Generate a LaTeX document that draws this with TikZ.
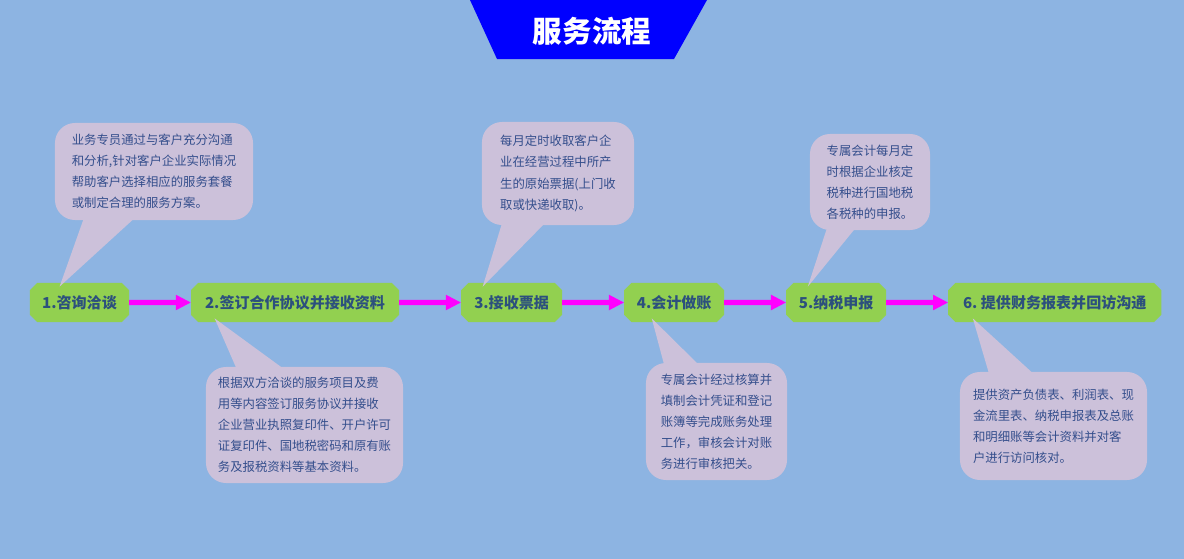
\documentclass[tikz,border=0pt]{standalone}
\usepackage{fontspec}
\setmainfont{Noto Sans CJK SC}
\usepackage{tikz}
\usetikzlibrary{positioning}
\usetikzlibrary{graphs}
\usetikzlibrary{calc}
\usetikzlibrary{arrows.meta}
\usetikzlibrary{shapes.misc}

\definecolor{bgblue}{RGB}{141,180,226}
\definecolor{titleblue}{RGB}{0,0,255}
\definecolor{stepgreen}{RGB}{146,208,80}
\definecolor{notelilac}{RGB}{204,193,218}
\definecolor{steptext}{RGB}{44,80,125}
\definecolor{notetext}{RGB}{52,78,140}
\definecolor{flowpink}{RGB}{255,0,255}

\tikzset{
    stepbox/.style={chamfered rectangle,chamfered rectangle xsep=0.09cm,
        chamfered rectangle ysep=0.09cm,fill=stepgreen,minimum height=0.975cm,
        inner sep=0pt,outer sep=0pt,text=steptext,font=\fontsize{10.7}{12}\bfseries},
    note/.style={fill=notelilac,rounded corners=0.5cm,inner sep=0pt,outer sep=0pt,
        align=left,text=notetext,font=\fontsize{8.8}{15}\selectfont},
    pointer/.style={fill=notelilac},
}

\begin{document}
\begin{tikzpicture}[x=0.025cm,y=-0.025cm,
        >={Triangle[length=0.38cm,width=0.36cm]},
        every edge/.style={draw=flowpink,line width=0.13cm}]
        \fill[bgblue] (0,0) rectangle (1184,559);
        \useasboundingbox (0,0) rectangle (1184,559);

        % title banner
        \fill[titleblue] (470,0) -- (707,0) -- (674,59) -- (497,59) -- cycle;
        \node (title) at (592,31) [text=white,font=\fontsize{21}{21}\bfseries] {服务流程};

        % steps
        \node (b1) at (79.5,302.5) [stepbox,minimum width=2.475cm] {1.咨询洽谈};
        \node (b2) [stepbox,right=1.55cm of b1,minimum width=5.2cm]   {2.签订合作协议并接收资料};
        \node (b3) [stepbox,right=1.55cm of b2,minimum width=2.525cm] {3.接收票据};
        \node (b4) [stepbox,right=1.55cm of b3,minimum width=2.5cm]   {4.会计做账};
        \node (b5) [stepbox,right=1.55cm of b4,minimum width=2.5cm]   {5.纳税申报};
        \node (b6) [stepbox,right=1.55cm of b5,minimum width=5.325cm] {6.\ 提供财务报表并回访沟通};

        \graph{
            (b1) -> (b2) -> (b3) -> (b4) -> (b5) -> (b6);
        };

        % callouts
        \node (n1) at (154,171.5) [note,minimum width=4.95cm,minimum height=2.425cm]
            {业务专员通过与客户充分沟通\\和分析,针对客户企业实际情况\\帮助客户选择相应的服务套餐\\或制定合理的服务方案。};
        \node (n2) at (304.5,425) [note,minimum width=4.925cm,minimum height=2.9cm]
            {根据双方洽谈的服务项目及费\\用等内容签订服务协议并接收\\企业营业执照复印件、开户许可\\证复印件、国地税密码和原有账\\务及报税资料等基本资料。};
        \node (n3) at (558,173.5) [note,minimum width=3.8cm,minimum height=2.575cm]
            {每月定时收取客户企\\业在经营过程中所产\\生的原始票据(上门收\\取或快递收取)。};
        \node (n4) at (716.5,421.5) [note,minimum width=3.525cm,minimum height=2.925cm]
            {专属会计经过核算并\\填制会计凭证和登记\\账簿等完成账务处理\\工作，审核会计对账\\务进行审核把关。};
        \node (n5) at (870,182) [note,minimum width=3cm,minimum height=2.4cm]
            {专属会计每月定\\时根据企业核定\\税种进行国地税\\各税种的申报。};
        \node (n6) at (1053.5,426) [note,minimum width=4.675cm,minimum height=2.7cm]
            {提供资产负债表、利润表、现\\金流里表、纳税申报表及总账\\和明细账等会计资料并对客\\户进行访问核对。};

        % pointers
        \coordinate (t1) at ($(b1.north west)+(26,0)$);
        \coordinate (t2) at ($(b2.south west)+(20,0)$);
        \coordinate (t3) at ($(b3.north west)+(18,0)$);
        \coordinate (t4) at ($(b4.south west)+(24,0)$);
        \coordinate (t5) at ($(b5.north west)+(18,0)$);
        \coordinate (t6) at ($(b6.south west)+(21,0)$);

        \fill[pointer] (t1) -- ($(n1.south west)+(30,-5)$) -- ($(n1.south west)+(83,-5)$) -- cycle;
        \fill[pointer] (t2) -- ($(n2.north west)+(32,5)$)  -- ($(n2.north west)+(82,5)$)  -- cycle;
        \fill[pointer] (t3) -- ($(n3.south west)+(21,-5)$) -- ($(n3.south west)+(66,-5)$) -- cycle;
        \fill[pointer] (t4) -- ($(n4.north west)+(19,5)$)  -- ($(n4.north west)+(56,5)$)  -- cycle;
        \fill[pointer] (t5) -- ($(n5.south west)+(18,-5)$) -- ($(n5.south west)+(48,-5)$) -- cycle;
        \fill[pointer] (t6) -- ($(n6.north west)+(30,5)$)  -- ($(n6.north west)+(77,5)$)  -- cycle;
    \end{tikzpicture}
\end{document}
